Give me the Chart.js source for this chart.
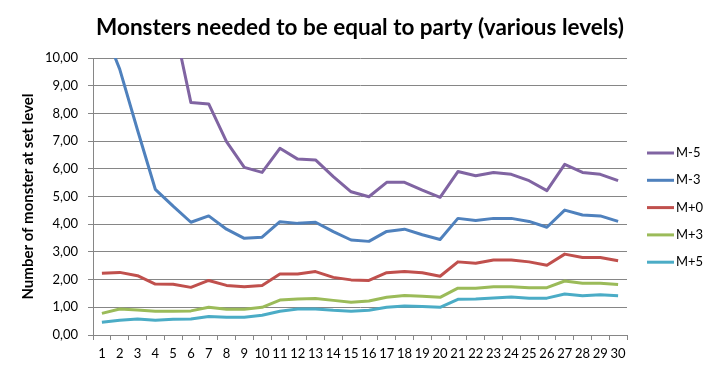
<!DOCTYPE html>
<html>
<head>
<meta charset="utf-8">
<script src="https://cdn.jsdelivr.net/npm/chart.js@4/dist/chart.umd.min.js"></script>
<style>
  html, body { margin: 0; padding: 0; background: #fff; }
  #wrap { width: 720px; height: 375px; }
</style>
</head>
<body>
<div id="wrap"><canvas id="chart" width="720" height="375"></canvas></div>
<script>
// levels 1..30
const levels = Array.from({ length: 30 }, (_, i) => String(i + 1));

// values above 10 run off the top of the plot (clipped like the original)
const mMinus5 = [35, 25, 18, 14, 11.4, 8.39, 8.34, 6.98, 6.05, 5.87, 6.74, 6.35, 6.32, 5.72, 5.17,
                 4.99, 5.51, 5.51, 5.23, 4.97, 5.90, 5.75, 5.87, 5.80, 5.57, 5.21, 6.16, 5.87, 5.80, 5.57];
const mMinus3 = [11.2, 9.6, 7.4, 5.26, 4.65, 4.07, 4.30, 3.82, 3.49, 3.53, 4.09, 4.03, 4.07, 3.73, 3.43,
                 3.38, 3.74, 3.82, 3.62, 3.45, 4.21, 4.13, 4.21, 4.21, 4.10, 3.89, 4.51, 4.33, 4.30, 4.10];
const mPlus0  = [2.23, 2.26, 2.14, 1.84, 1.83, 1.72, 1.97, 1.79, 1.74, 1.79, 2.20, 2.20, 2.29, 2.08, 1.99,
                 1.97, 2.25, 2.29, 2.25, 2.12, 2.64, 2.59, 2.71, 2.71, 2.64, 2.52, 2.92, 2.80, 2.80, 2.68];
const mPlus3  = [0.78, 0.94, 0.90, 0.86, 0.86, 0.87, 1.00, 0.93, 0.93, 1.00, 1.26, 1.30, 1.32, 1.25, 1.18,
                 1.23, 1.36, 1.43, 1.40, 1.36, 1.69, 1.69, 1.74, 1.74, 1.71, 1.71, 1.95, 1.87, 1.87, 1.82];
const mPlus5  = [0.46, 0.53, 0.58, 0.53, 0.57, 0.58, 0.67, 0.64, 0.64, 0.71, 0.86, 0.94, 0.94, 0.89, 0.86,
                 0.89, 1.00, 1.05, 1.03, 1.00, 1.29, 1.30, 1.34, 1.37, 1.33, 1.33, 1.48, 1.42, 1.45, 1.42];

const seriesNames  = ['M-5', 'M-3', 'M+0', 'M+3', 'M+5'];
const seriesColors = ['#8064A2', '#4F81BD', '#C0504D', '#9BBB59', '#4BACC6'];
const seriesData   = [mMinus5, mMinus3, mPlus0, mPlus3, mPlus5];

const FONT = 'Lato, "Open Sans", sans-serif';
const GRID = '#868686';

// legend on the right, drawn by hand to sit where the original one is
const sideLegend = {
  id: 'sideLegend',
  afterDraw(chart) {
    const ctx = chart.ctx;
    ctx.save();
    ctx.font = '13px ' + FONT;
    ctx.textBaseline = 'middle';
    chart.data.datasets.forEach((ds, i) => {
      const y = 153 + i * 27.3;
      ctx.strokeStyle = ds.borderColor;
      ctx.lineWidth = 3;
      ctx.beginPath();
      ctx.moveTo(647, y);
      ctx.lineTo(674, y);
      ctx.stroke();
      ctx.fillStyle = '#000';
      ctx.fillText(ds.label, 676, y);
    });
    ctx.restore();
  }
};

new Chart(document.getElementById('chart'), {
  type: 'line',
  data: {
    labels: levels,
    datasets: seriesNames.map((name, i) => ({
      label: name,
      data: seriesData[i],
      borderColor: seriesColors[i],
      backgroundColor: seriesColors[i],
      borderWidth: 3,
      pointRadius: 0,
      tension: 0,
      borderJoinStyle: 'round',
    }))
  },
  options: {
    responsive: false,
    animation: false,
    layout: { padding: 0 },
    plugins: {
      legend: { display: false },
      tooltip: { enabled: false },
      title: {
        display: true,
        text: 'Monsters needed to be equal to party (various levels)',
        color: '#000',
        font: { family: FONT, size: 22.5, weight: 'bold' },
        padding: { top: 14, bottom: 17 },
      },
    },
    scales: {
      x: {
        offset: true,
        grid: { display: true, drawOnChartArea: false, drawTicks: true, tickLength: 5, color: GRID, offset: true },
        border: { display: true, color: GRID, width: 1 },
        ticks: { color: '#000', font: { family: FONT, size: 13 }, padding: 6, autoSkip: false, maxRotation: 0 },
        afterFit: s => { s.height = 40; },
      },
      y: {
        min: 0,
        max: 10,
        grid: { color: GRID, tickLength: 5, drawTicks: true },
        border: { display: true, color: GRID, width: 1 },
        ticks: {
          stepSize: 1,
          color: '#000',
          padding: 10,
          font: { family: FONT, size: 13 },
          callback: v => v.toFixed(2).replace('.', ','),
        },
        title: {
          display: true,
          text: 'Number of monster at set level',
          color: '#000',
          font: { family: FONT, size: 15, weight: 'bold' },
          padding: { top: 19, bottom: 4 },
        },
        afterFit: s => { s.width = 93; },
      },
      // empty right-hand axis: keeps room for the legend without shifting the title
      side: {
        position: 'right',
        min: 0,
        max: 1,
        grid: { display: false },
        border: { display: false },
        ticks: { display: false },
        afterFit: s => { s.width = 93; },
      },
    },
  },
  plugins: [sideLegend],
});
</script>
</body>
</html>
